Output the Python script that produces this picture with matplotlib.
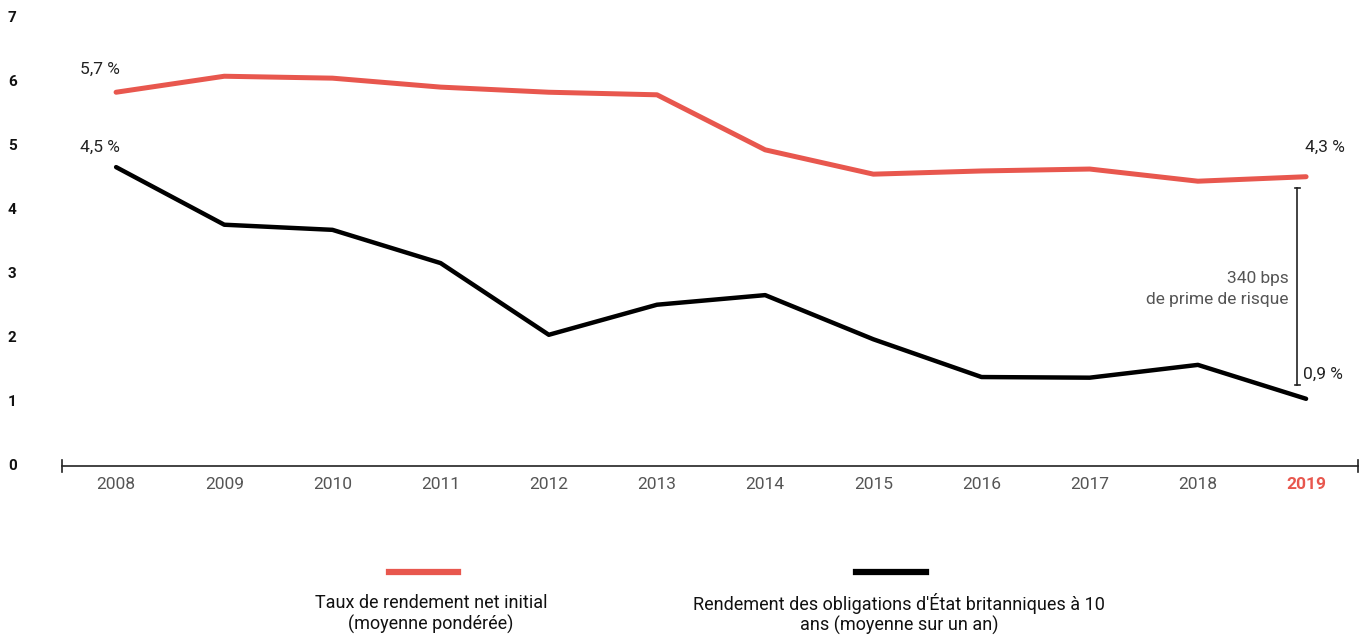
import matplotlib.pyplot as plt
import matplotlib.transforms as mtransforms
from matplotlib import font_manager

# font: condensed look if available
names = {f.name for f in font_manager.fontManager.ttflist}
family = 'Liberation Sans Narrow' if 'Liberation Sans Narrow' in names else 'Roboto'
plt.rcParams['font.family'] = [family, 'DejaVu Sans']

years = [2008, 2009, 2010, 2011, 2012, 2013, 2014, 2015, 2016, 2017, 2018, 2019]
net_yield = [5.84, 6.09, 6.06, 5.92, 5.84, 5.80, 4.94, 4.56, 4.61, 4.64, 4.45, 4.52]
gilt_yield = [4.67, 3.77, 3.69, 3.17, 2.05, 2.52, 2.67, 1.98, 1.39, 1.38, 1.58, 1.05]
y_ticks = [0, 1, 2, 3, 4, 5, 6, 7]

red = '#E8574E'
grey = '#555555'

fig = plt.figure(figsize=(13.66, 6.37), dpi=100)
ax = fig.add_axes([62/1366, 1 - 466/637, (1358-62)/1366, (466-18)/637])

ax.plot(years, net_yield, color=red, lw=3.6, solid_capstyle='round')
ax.plot(years, gilt_yield, color='black', lw=3.2, solid_capstyle='round')

ax.set_xlim(2007.5, 2019.48)
ax.set_ylim(0, 7)
for s in ['top', 'right', 'left']:
    ax.spines[s].set_visible(False)
ax.spines['bottom'].set_color('#222222')
ax.spines['bottom'].set_linewidth(1.2)

# y labels sit at the far left of the figure
ax.set_yticks([])
ylab_tr = mtransforms.blended_transform_factory(fig.transFigure, ax.transData)
for v in y_ticks:
    ax.text(8/1366, v, str(v), transform=ylab_tr, ha='left', va='center',
            fontsize=11, fontweight='bold', color='#111111')

ax.set_xticks(years)
ax.set_xticklabels([str(y) for y in years], fontsize=12.5, color=grey)
ax.tick_params(axis='x', length=0, pad=8)
lbl = ax.get_xticklabels()[-1]
lbl.set_color(red)
lbl.set_fontweight('bold')

# end caps on the axis line
for xa in [0, 1]:
    ax.plot([xa, xa], [-0.014, 0.014], color='#222222', lw=1.2, transform=ax.transAxes, clip_on=False)

# value labels
ax.text(2007.85, 6.2, '5,7 %', ha='center', va='center', fontsize=12.5, color='#222222')
ax.text(2007.85, 4.98, '4,5 %', ha='center', va='center', fontsize=12.5, color='#222222')
ax.text(2019.17, 4.98, '4,3 %', ha='center', va='center', fontsize=12.5, color='#222222')
ax.text(2018.97, 1.43, '0,9 %', ha='left', va='center', fontsize=12.5, color='#222222')

# risk premium bracket
bx = 2018.92
ax.plot([bx, bx], [1.27, 4.34], color='#222222', lw=1.2)
ax.plot([bx - 0.025, bx + 0.025], [4.34, 4.34], color='#222222', lw=1.2)
ax.plot([bx - 0.025, bx + 0.025], [1.27, 1.27], color='#222222', lw=1.2)
ax.text(bx - 0.08, 2.93, '340 bps', ha='right', va='center', fontsize=12.5, color=grey)
ax.text(bx - 0.08, 2.6, 'de prime de risque', ha='right', va='center', fontsize=12.5, color=grey)

# legend
fig.add_artist(plt.Line2D([389/1366, 458/1366], [1 - 572/637] * 2, color=red, lw=4.5))
fig.add_artist(plt.Line2D([856/1366, 926/1366], [1 - 572/637] * 2, color='black', lw=4.5))
fig.text(431/1366, 1 - 614/637, 'Taux de rendement net initial\n(moyenne pondérée)',
         ha='center', va='center', fontsize=13, color='#111111', linespacing=1.15)
fig.text(899/1366, 1 - 614/637, "Rendement des obligations d'État britanniques à 10\nans (moyenne sur un an)",
         ha='center', va='center', fontsize=13, color='#111111', linespacing=1.15)

fig.savefig('out.png', dpi=100)
